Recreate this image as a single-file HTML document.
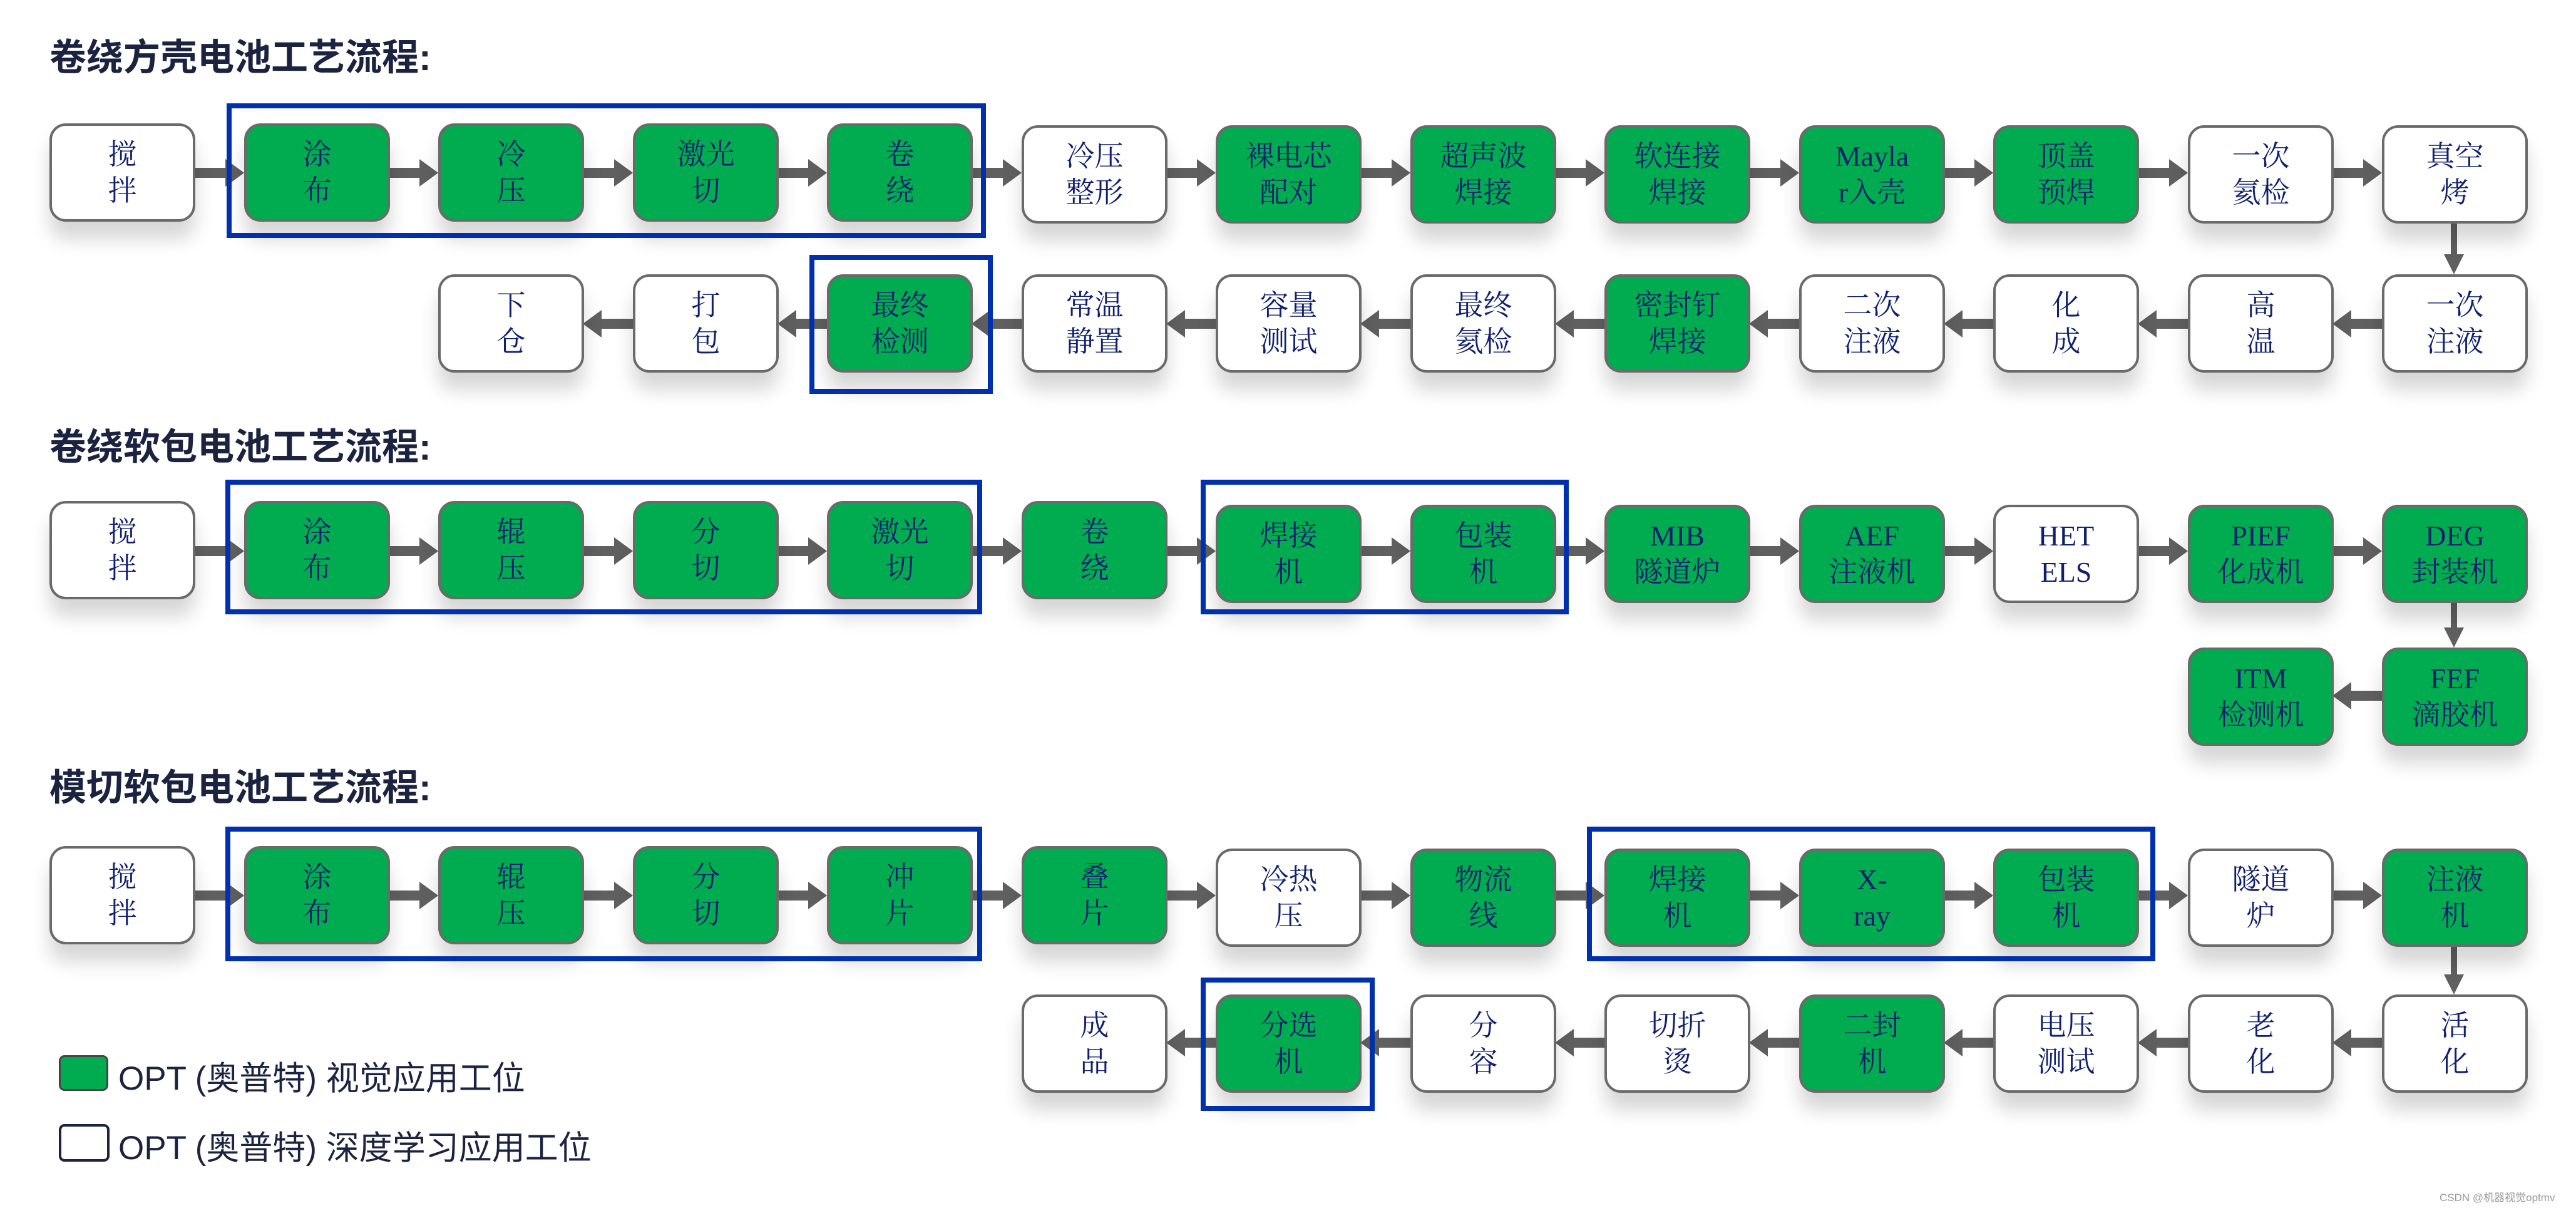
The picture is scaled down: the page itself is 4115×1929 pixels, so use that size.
<!DOCTYPE html>
<html><head><meta charset="utf-8">
<style>
body{margin:0;width:4115px;height:1929px;background:#fff;position:relative;overflow:hidden;font-family:"Liberation Sans","Noto Sans CJK SC",sans-serif}
.t{position:absolute;left:79px;font-size:59px;font-weight:bold;color:#1c2340;line-height:64px}
.n{position:absolute;width:225px;height:149px;border:4px solid #6a6a6a;border-radius:26px;background:#fff;display:flex;align-items:center;justify-content:center;text-align:center;font-family:"Liberation Serif","Noto Serif CJK SC",serif;font-size:46px;line-height:58px;color:#10206e;box-shadow:0 28px 30px rgba(0,0,0,0.16)}
.g{background:#00ac4f}
.b{position:absolute;border:8px solid #0030ad;box-sizing:border-box}
svg{position:absolute;left:0;top:0}
.lg{position:absolute;font-size:53px;color:#1c2340;left:189px}
</style></head><body>
<div class="t" style="top:60px">卷绕方壳电池工艺流程:</div>
<div class="t" style="top:682px">卷绕软包电池工艺流程:</div>
<div class="t" style="top:1226px">模切软包电池工艺流程:</div>

<svg width="4115" height="1929" id="ar"></svg>

<!-- Row 1 -->
<div class="n" style="left:79px;top:197px">搅<br>拌</div>
<div class="n g" style="left:390px;top:197px">涂<br>布</div>
<div class="n g" style="left:700px;top:197px">冷<br>压</div>
<div class="n g" style="left:1011px;top:197px">激光<br>切</div>
<div class="n g" style="left:1321px;top:197px">卷<br>绕</div>
<div class="n" style="left:1632px;top:200px">冷压<br>整形</div>
<div class="n g" style="left:1942px;top:200px">裸电芯<br>配对</div>
<div class="n g" style="left:2253px;top:200px">超声波<br>焊接</div>
<div class="n g" style="left:2563px;top:200px">软连接<br>焊接</div>
<div class="n g" style="left:2874px;top:200px">Mayla<br>r入壳</div>
<div class="n g" style="left:3184px;top:200px">顶盖<br>预焊</div>
<div class="n" style="left:3495px;top:200px">一次<br>氦检</div>
<div class="n" style="left:3805px;top:200px">真空<br>烤</div>
<!-- Row 2 -->
<div class="n" style="left:3805px;top:438px">一次<br>注液</div>
<div class="n" style="left:3495px;top:438px">高<br>温</div>
<div class="n" style="left:3184px;top:438px">化<br>成</div>
<div class="n" style="left:2874px;top:438px">二次<br>注液</div>
<div class="n g" style="left:2563px;top:438px">密封钉<br>焊接</div>
<div class="n" style="left:2253px;top:438px">最终<br>氦检</div>
<div class="n" style="left:1942px;top:438px">容量<br>测试</div>
<div class="n" style="left:1632px;top:438px">常温<br>静置</div>
<div class="n g" style="left:1321px;top:438px">最终<br>检测</div>
<div class="n" style="left:1011px;top:438px">打<br>包</div>
<div class="n" style="left:700px;top:438px">下<br>仓</div>
<!-- Row 3 -->
<div class="n" style="left:79px;top:800px">搅<br>拌</div>
<div class="n g" style="left:390px;top:800px">涂<br>布</div>
<div class="n g" style="left:700px;top:800px">辊<br>压</div>
<div class="n g" style="left:1011px;top:800px">分<br>切</div>
<div class="n g" style="left:1321px;top:800px">激光<br>切</div>
<div class="n g" style="left:1632px;top:800px">卷<br>绕</div>
<div class="n g" style="left:1942px;top:806px">焊接<br>机</div>
<div class="n g" style="left:2253px;top:806px">包装<br>机</div>
<div class="n g" style="left:2563px;top:806px">MIB<br>隧道炉</div>
<div class="n g" style="left:2874px;top:806px">AEF<br>注液机</div>
<div class="n" style="left:3184px;top:806px">HET<br>ELS</div>
<div class="n g" style="left:3495px;top:806px">PIEF<br>化成机</div>
<div class="n g" style="left:3805px;top:806px">DEG<br>封装机</div>
<!-- Row 4 -->
<div class="n g" style="left:3805px;top:1034px">FEF<br>滴胶机</div>
<div class="n g" style="left:3495px;top:1034px">ITM<br>检测机</div>
<!-- Row 5 -->
<div class="n" style="left:79px;top:1351px">搅<br>拌</div>
<div class="n g" style="left:390px;top:1351px">涂<br>布</div>
<div class="n g" style="left:700px;top:1351px">辊<br>压</div>
<div class="n g" style="left:1011px;top:1351px">分<br>切</div>
<div class="n g" style="left:1321px;top:1351px">冲<br>片</div>
<div class="n g" style="left:1632px;top:1351px">叠<br>片</div>
<div class="n" style="left:1942px;top:1355px">冷热<br>压</div>
<div class="n g" style="left:2253px;top:1355px">物流<br>线</div>
<div class="n g" style="left:2563px;top:1355px">焊接<br>机</div>
<div class="n g" style="left:2874px;top:1355px">X-<br>ray</div>
<div class="n g" style="left:3184px;top:1355px">包装<br>机</div>
<div class="n" style="left:3495px;top:1355px">隧道<br>炉</div>
<div class="n g" style="left:3805px;top:1355px">注液<br>机</div>
<!-- Row 6 -->
<div class="n" style="left:3805px;top:1588px">活<br>化</div>
<div class="n" style="left:3495px;top:1588px">老<br>化</div>
<div class="n" style="left:3184px;top:1588px">电压<br>测试</div>
<div class="n g" style="left:2874px;top:1588px">二封<br>机</div>
<div class="n" style="left:2563px;top:1588px">切折<br>烫</div>
<div class="n" style="left:2253px;top:1588px">分<br>容</div>
<div class="n g" style="left:1942px;top:1588px">分选<br>机</div>
<div class="n" style="left:1632px;top:1588px">成<br>品</div>

<!-- blue boxes -->
<div class="b" style="left:362px;top:165px;width:1213px;height:215px"></div>
<div class="b" style="left:1293px;top:407px;width:293px;height:222px"></div>
<div class="b" style="left:360px;top:766px;width:1209px;height:215px"></div>
<div class="b" style="left:1918px;top:766px;width:588px;height:215px"></div>
<div class="b" style="left:360px;top:1320px;width:1209px;height:215px"></div>
<div class="b" style="left:2535px;top:1320px;width:908px;height:215px"></div>
<div class="b" style="left:1918px;top:1561px;width:278px;height:213px"></div>

<!-- legend -->
<div style="position:absolute;left:94px;top:1685px;width:73px;height:51px;background:#00ac4f;border:3px solid #444;border-radius:9px"></div>
<div class="lg" style="top:1680px">OPT (奥普特) 视觉应用工位</div>
<div style="position:absolute;left:94px;top:1795px;width:73px;height:52px;background:#fff;border:4px solid #1c2340;border-radius:9px"></div>
<div class="lg" style="top:1791px">OPT (奥普特) 深度学习应用工位</div>
<div style="position:absolute;left:3897px;top:1898px;font-size:17px;color:#999">CSDN @机器视觉optmv</div>

<script>
var s=document.getElementById('ar'),h='';
var L=[79,390,700,1011,1321,1632,1942,2253,2563,2874,3184,3495,3805];
function hr(x1,x2,y){var d=x2>x1?1:-1;var hx=x2-d*30;
h+='<rect x="'+Math.min(x1,hx)+'" y="'+(y-8)+'" width="'+Math.abs(hx-x1)+'" height="16" fill="#606060"/>';
h+='<polygon points="'+x2+','+y+' '+hx+','+(y-22)+' '+hx+','+(y+22)+'" fill="#606060"/>';}
function vr(x,y1,y2){h+='<rect x="'+(x-5)+'" y="'+y1+'" width="10" height="'+(y2-y1-30)+'" fill="#606060"/>';
h+='<polygon points="'+x+','+y2+' '+(x-16)+','+(y2-32)+' '+(x+16)+','+(y2-32)+'" fill="#606060"/>';}
function row(a,b,y,dir){for(var i=a;i<b;i++){if(dir>0)hr(L[i]+231,L[i+1],y);else hr(L[i+1],L[i]+231,y);}}
row(0,12,276,1);vr(3920,352,438);row(2,12,517,-1);
row(0,12,880,1);vr(3920,962,1034);row(11,12,1111,-1);
row(0,12,1430,1);vr(3920,1510,1588);row(5,12,1665,-1);
s.innerHTML=h;
</script>
</body></html>
